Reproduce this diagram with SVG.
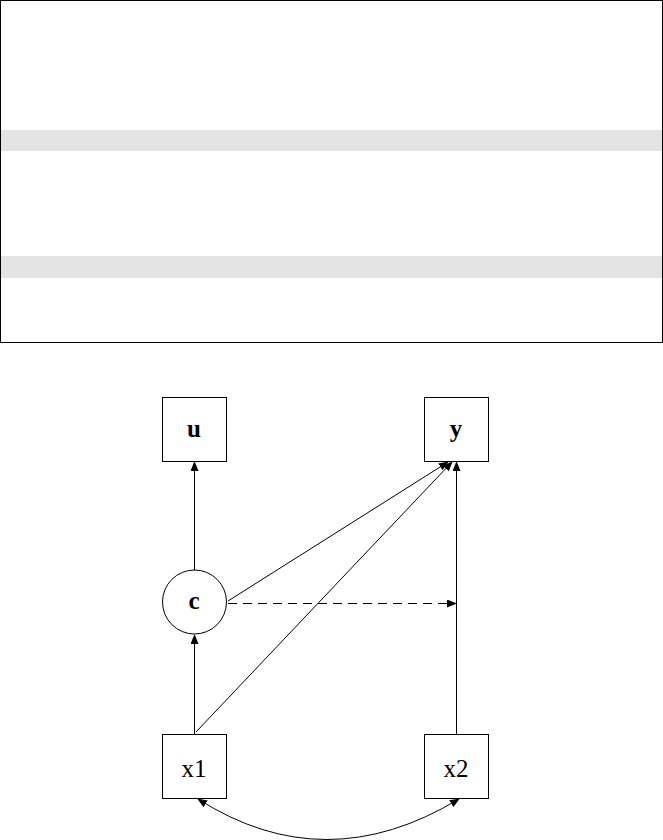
<svg xmlns="http://www.w3.org/2000/svg" width="663" height="840" viewBox="0 0 663 840">
<style>
.box{fill:#fff;stroke:#000;stroke-width:1}
.lbl{font-family:"Liberation Serif","Times New Roman",serif;font-size:25px;text-anchor:middle;fill:#000}
.b{font-weight:bold}
.edge{fill:none;stroke:#000;stroke-width:1}
</style>
<defs>
<marker id="ah" markerWidth="10" markerHeight="8" refX="9" refY="4" orient="auto" markerUnits="userSpaceOnUse">
<path d="M0,0 L10,4 L0,8 Z" fill="#000"/>
</marker>
<marker id="ahs" markerWidth="10" markerHeight="8" refX="9" refY="4" orient="auto-start-reverse" markerUnits="userSpaceOnUse">
<path d="M0,0 L10,4 L0,8 Z" fill="#000"/>
</marker>
</defs>
<rect width="663" height="840" fill="#fff"/>
<g id="panel">
<rect x="0.5" y="0.5" width="662" height="342" fill="#fff" stroke="#000" stroke-width="1"/>
<rect x="1" y="130" width="661" height="21" fill="#e4e4e4"/>
<rect x="1" y="256" width="661" height="22" fill="#e4e4e4"/>
</g>
<g id="connectors">
<line class="edge" x1="194.5" y1="570" x2="194.5" y2="462" marker-end="url(#ah)"/>
<line class="edge" x1="194.5" y1="734" x2="194.5" y2="635" marker-end="url(#ah)"/>
<line class="edge" x1="456.5" y1="734" x2="456.5" y2="462" marker-end="url(#ah)"/>
<line class="edge" x1="228" y1="601" x2="448" y2="462" marker-end="url(#ah)" stroke="#444"/>
<line class="edge" x1="196" y1="732" x2="452" y2="462" marker-end="url(#ah)" stroke="#444"/>
<line class="edge" x1="228" y1="603.5" x2="456" y2="603.5" stroke-dasharray="9,6" marker-end="url(#ah)"/>
<path class="edge" d="M198,799 Q325,880 459,799" marker-start="url(#ahs)" marker-end="url(#ah)"/>
</g>
<g id="u"><rect class="box" x="162.5" y="397.5" width="64" height="64"/><text class="lbl b" x="194" y="437">u</text></g>
<g id="y"><rect class="box" x="424.5" y="397.5" width="64" height="64"/><text class="lbl b" x="456" y="437">y</text></g>
<g id="c"><circle class="box" cx="194.5" cy="602" r="32"/><text class="lbl b" x="194" y="609">c</text></g>
<g id="x1"><rect class="box" x="162.5" y="734.5" width="64" height="64"/><text class="lbl" x="194" y="777">x1</text></g>
<g id="x2"><rect class="box" x="424.5" y="734.5" width="64" height="64"/><text class="lbl" x="456" y="777">x2</text></g>
</svg>
